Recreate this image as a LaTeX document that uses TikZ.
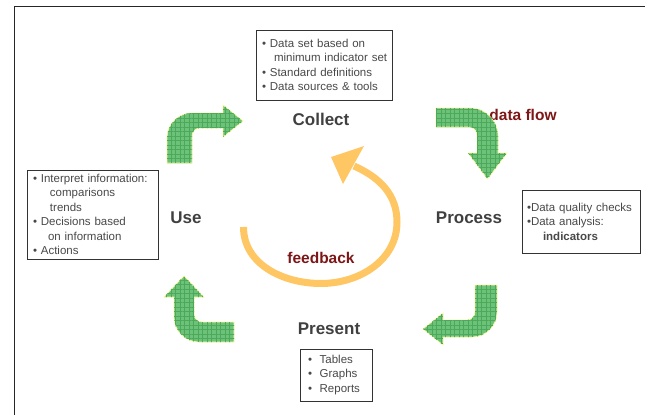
\documentclass[tikz,border=0pt]{standalone}
\usepackage{fontspec}
\setmainfont{Liberation Sans}
\usepackage{xcolor}
\usepackage{tikz}
\usetikzlibrary{positioning, arrows.meta, patterns.meta}
\definecolor{titlegray}{RGB}{64,64,64}
\definecolor{textgray}{RGB}{72,72,72}
\definecolor{flowred}{RGB}{125,22,22}
\definecolor{loopyellow}{RGB}{255,198,100}
\definecolor{blockgreen}{RGB}{108,194,120}
\definecolor{gridgreen}{RGB}{76,168,90}
\tikzstyle{stage} = [font=\fontsize{17}{20}\selectfont\bfseries, text=titlegray, inner sep=0pt]
\tikzstyle{listbox} = [rectangle, draw=black!80, line width=0.9pt, align=left, text=textgray, inner ysep=0pt, font=\fontsize{11.5}{14.5}\selectfont]
\tikzstyle{flowlabel} = [font=\fontsize{15.5}{18}\selectfont\bfseries, text=flowred, inner sep=0pt]
\tikzstyle{blockarrow} = [draw=yellow!40, line width=0.6pt, fill=blockgreen, postaction={pattern={Hatch[angle=0,distance=4.5pt,line width=0.5pt]}, pattern color=gridgreen}]
\tikzstyle{feedbackarc} = [loopyellow, line width=7pt]
\tikzstyle{borderline} = [line width=1pt, black!85]

\begin{document}
\begin{tikzpicture}[x=1pt, y=1pt]
		\useasboundingbox (0,0) rectangle (654,-415);
		\draw [borderline] (14,-415) |- (645,-6);
		% stages
		\node (collect) [stage] at (321,-119) {Collect};
		\node (process) [stage] at (469,-218) {Process};
		\node (use) [stage] at (186,-218) {Use};
		\node (present) [stage] at (329,-329) {Present};
		% lists
		\node (collectbox) [listbox, text width=124pt, minimum height=70pt, inner xsep=6pt] at (324,-65) {• Data set based on\\\hspace*{12pt}\mbox{minimum indicator set}\\• Standard definitions\\• Data sources \& tools};
		\node (processbox) [listbox, text width=108pt, minimum height=63pt, inner xsep=5pt] at (581,-221.5) {•Data quality checks\\•Data analysis:\\\hspace*{16pt}\textbf{indicators}};
		\node (usebox) [listbox, text width=119pt, minimum height=89pt, inner xsep=6pt] at (92.5,-214.5) {• Interpret information:\\\hspace*{17pt}comparisons\\\hspace*{17pt}trends\\• Decisions based\\\hspace*{15pt}on information\\• Actions};
		\node (presentbox) [listbox, text width=56pt, minimum height=52pt, inner xsep=8pt] at (336,-375) {•\ \ Tables\\•\ \ Graphs\\•\ \ Reports};
		\node (dataflow) [flowlabel] at (523,-115) {data flow};
		\node (feedback) [flowlabel] at (321,-258) {feedback};
		% green arrows
		\path [blockarrow] (167,-163) -- (167,-138) arc[start angle=180, end angle=90, radius=25] -- (223,-113) -- (223,-105) -- (243,-121) -- (223,-137) -- (223,-128) -- (200,-128) arc[start angle=90, end angle=180, radius=8] -- (192,-163) -- cycle;
		\path [blockarrow] (436,-108) -- (470,-108) arc[start angle=90, end angle=0, radius=28] -- (498,-153) -- (507,-153) -- (487.5,-179) -- (468,-153) -- (477,-153) -- (477,-135) arc[start angle=0, end angle=90, radius=8] -- (436,-127) -- cycle;
		\path [blockarrow] (475,-285) -- (497,-285) -- (497,-312) arc[start angle=0, end angle=-90, radius=25] -- (443,-337) -- (443,-345) -- (423,-329) -- (443,-313) -- (443,-320) -- (467,-320) arc[start angle=-90, end angle=0, radius=8] -- cycle;
		\path [blockarrow] (234,-342) -- (199,-342) arc[start angle=-90, end angle=-180, radius=25] -- (174,-297) -- (164,-297) -- (184,-276) -- (204,-297) -- (194,-297) -- (194,-314) arc[start angle=180, end angle=270, radius=8] -- (234,-322) -- cycle;
		% feedback loop
		\draw [feedbackarc] (243.5,-227) to[out=-90,in=180] (321,-283.5) to[out=0,in=-90] (397,-222) to[out=90,in=-24] (354,-166);
		\fill [loopyellow] (364,-146) -- (331,-157) -- (343,-184) -- cycle;
	\end{tikzpicture}
\end{document}
